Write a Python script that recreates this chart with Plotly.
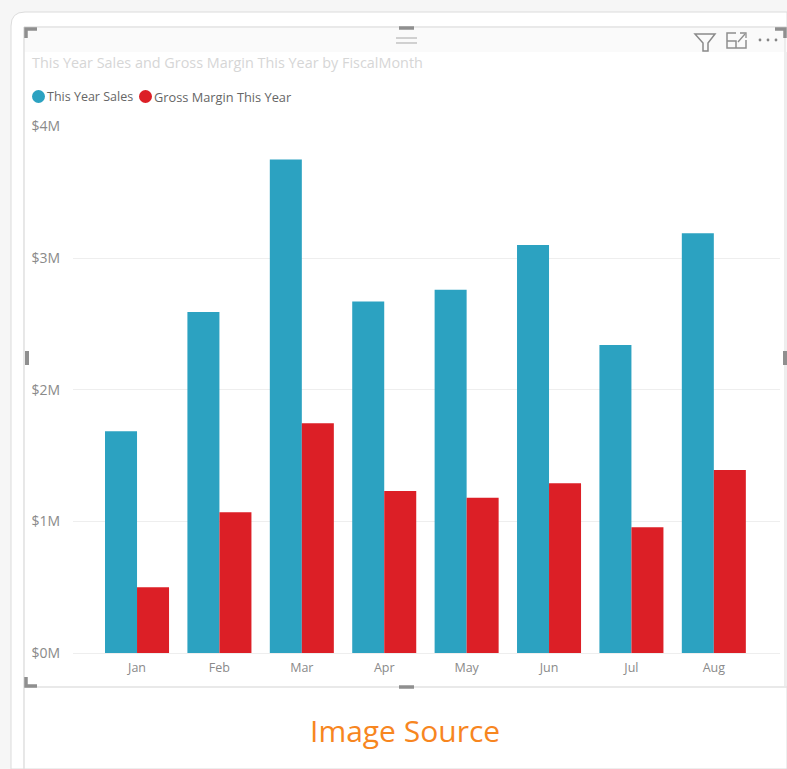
import plotly.graph_objects as go

months = ["Jan", "Feb", "Mar", "Apr", "May", "Jun", "Jul", "Aug"]
sales = [1.685, 2.59, 3.75, 2.67, 2.76, 3.10, 2.34, 3.19]
margin = [0.50, 1.07, 1.745, 1.23, 1.18, 1.29, 0.955, 1.39]
tick_vals = [0, 1, 2, 3, 4]
tick_text = ["$0M", "$1M", "$2M", "$3M", "$4M"]

W, H = 787, 769
L, R, T, B = 73, 7, 126, 116
PW, PH = W - L - R, H - T - B
BLUE, RED = "#2CA2C1", "#DC1F26"


def px(x):
    return (x - L) / PW


def py(y):
    return (H - B - y) / PH


def rect(x0, y0, x1, y1, fill, line=None, width=0, layer="below"):
    return dict(type="rect", xref="paper", yref="paper", x0=px(x0), x1=px(x1),
                y0=py(y0), y1=py(y1), fillcolor=fill, layer=layer,
                line=dict(color=line or fill, width=width))


def path(points, color, width=1.6, fill=None, close=False):
    d = "M" + " L".join(f"{px(a):.5f},{py(b):.5f}" for a, b in points) + (" Z" if close else "")
    return dict(type="path", xref="paper", yref="paper", path=d, layer="above",
                fillcolor=fill or "rgba(0,0,0,0)", line=dict(color=color, width=width))


def dot(cx, cy, r, color):
    return dict(type="circle", xref="paper", yref="paper", x0=px(cx - r), x1=px(cx + r),
                y0=py(cy + r), y1=py(cy - r), fillcolor=color, line=dict(width=0), layer="above")


GR = "#8f8f8f"
shapes = [
    rect(0, 0, 787, 769, "#f6f6f6"),
    dict(type="path", xref="paper", yref="paper", layer="below", fillcolor="#ffffff",
         line=dict(color="#dcdcdc", width=1),
         path=f"M{px(11)},{py(769)} L{px(11)},{py(26)} Q{px(11)},{py(12)} {px(25)},{py(12)} "
              f"L{px(787)},{py(12)} L{px(787)},{py(769)} Z"),
    rect(24, 28, 787, 52, "#fafafa"),
    path([(24, 27), (787, 27)], "#e2e2e2", 1.5),
    path([(24, 27), (24, 769)], "#e0e0e0", 1.5),
    path([(24, 687), (787, 687)], "#e2e2e2", 1.5),
    path([(785, 27), (785, 687)], "#e8e8e8", 1.5),
    # selection handles
    path([(26, 38), (26, 29), (37, 29)], GR, 3.5),
    path([(775, 29), (785, 29), (785, 38)], GR, 3.5),
    path([(26, 677), (26, 686), (37, 686)], GR, 3.5),
    path([(399, 28), (414, 28)], GR, 3.5),
    path([(399, 687), (414, 687)], GR, 3.5),
    path([(27, 351), (27, 365)], GR, 4),
    path([(785, 351), (785, 365)], GR, 4),
    # drag grip
    path([(396, 38), (417, 38)], "#b5b5b5", 1.2),
    path([(396, 43), (417, 43)], "#b5b5b5", 1.2),
    # filter icon
    path([(695, 34), (715, 34), (708, 43), (708, 51), (703, 51), (703, 43)], "#8a8a8a", 1.5, close=True),
    # focus icon
    path([(736, 33), (727, 33), (727, 48), (746, 48), (746, 40)], "#8f8f8f", 1.5),
    path([(727, 41), (736, 41), (736, 48)], "#8f8f8f", 1.5),
    path([(738, 42), (745, 34)], "#8f8f8f", 1.3),
    path([(740, 33), (746, 33), (746, 38)], "#8f8f8f", 1.3),
    # ellipsis
    dot(760, 40, 1.4, "#858585"),
    dot(768, 40, 1.4, "#858585"),
    dot(776, 40, 1.4, "#858585"),
    # legend dots
    dot(38.5, 96.5, 6.5, BLUE),
    dot(145.5, 96.5, 6.5, RED),
]


def note(text, x, y, size, color, anchor="left", family="Open Sans"):
    return dict(text=text, x=px(x), y=py(y), xref="paper", yref="paper", showarrow=False,
                xanchor=anchor, yanchor="middle", align=anchor, borderpad=0,
                font=dict(size=size, color=color, family=family))


annotations = [
    note("This Year Sales and Gross Margin This Year by FiscalMonth", 31, 63, 14.4, "#d6d6d6"),
    note("This Year Sales", 45.5, 96.5, 12.5, "#666666"),
    note("Gross Margin This Year", 152.5, 96.5, 12.8, "#666666"),
    note("Image Source", 405, 730, 30, "#F7861F", "center", "Open Sans"),
]

fig = go.Figure()
fig.add_bar(name="This Year Sales", x=months, y=sales, marker=dict(color=BLUE, line_width=0))
fig.add_bar(name="Gross Margin This Year", x=months, y=margin, marker=dict(color=RED, line_width=0))
fig.update_layout(
    width=W, height=H, autosize=False, barmode="group", bargap=0.223, bargroupgap=0,
    showlegend=False, paper_bgcolor="#ffffff", plot_bgcolor="rgba(0,0,0,0)",
    margin=dict(l=L, r=R, t=T, b=B, pad=0),
    shapes=shapes, annotations=annotations,
    font=dict(family="Open Sans", size=12, color="#8a8a8a"),
    xaxis=dict(range=[-0.777, 7.803], showgrid=False, zeroline=False, showline=False,
               ticks="", tickfont=dict(size=12.5, color="#8a8a8a"), ticklabelstandoff=5),
    yaxis=dict(range=[0, 4.004], tickvals=tick_vals, ticktext=tick_text, gridcolor="#eeeeee",
               gridwidth=1, zeroline=True, zerolinecolor="#eeeeee", zerolinewidth=1,
               showline=False, ticks="",
               tickfont=dict(size=14, color="#8a8a8a"), ticklabelstandoff=12),
)
fig.write_html("out.html", post_script="document.body.style.margin='0';document.body.style.overflow='hidden';",
               config=dict(displayModeBar=False))
